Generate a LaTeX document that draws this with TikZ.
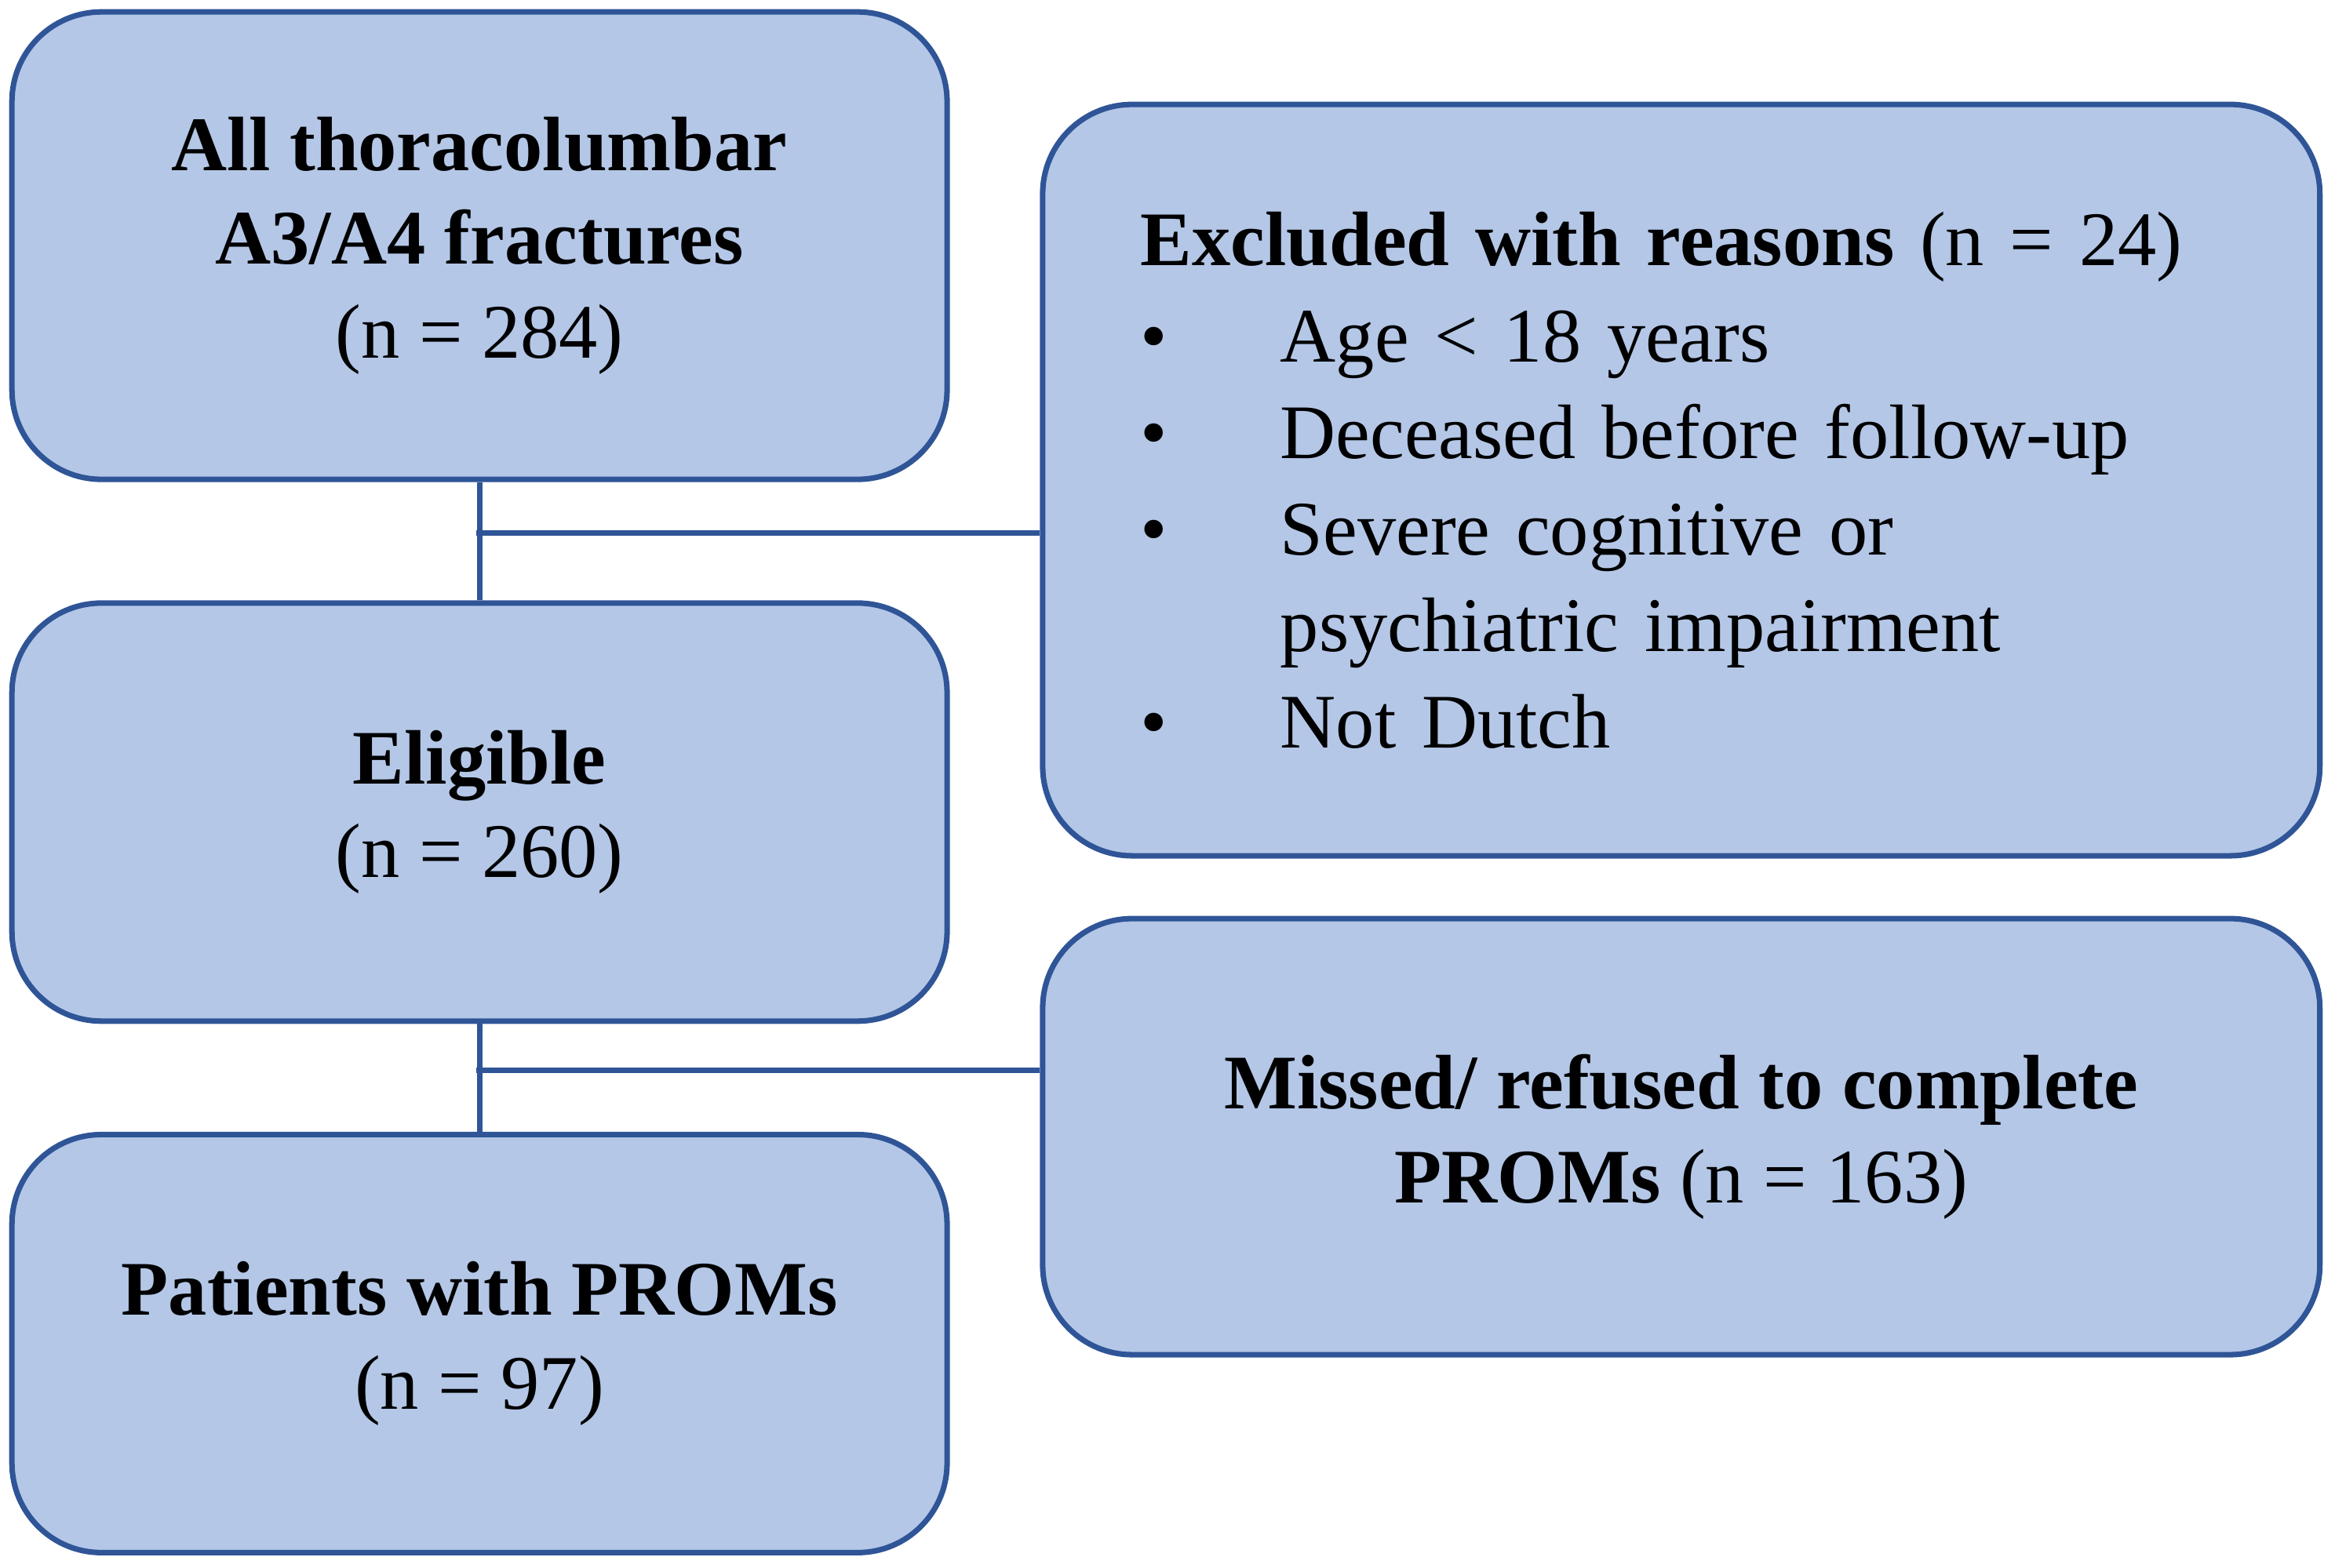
\documentclass[tikz,border=0pt]{standalone}
\usepackage{fontspec}
\setmainfont{Liberation Serif}
\usetikzlibrary{positioning}
\definecolor{boxfill}{HTML}{B4C7E7}
\definecolor{boxline}{HTML}{2F5597}
\tikzset{
  flowbox/.style={draw=boxline, fill=boxfill, line width=2pt, rounded corners=1.14cm,
    align=center, font=\fontsize{28}{34}\selectfont},
  link/.style={draw=boxline, line width=2pt}
}
\newcommand{\bul}{\makebox[1.78cm][l]{\textbullet}}
\begin{document}
\begin{tikzpicture}[x=0.01898cm,y=-0.01898cm]
  \useasboundingbox (0,0) rectangle (1568,1053);
  % left column
  \node[flowbox, minimum width=11.92cm, minimum height=5.96cm] (all) at (322,165)
    {\textbf{All thoracolumbar}\\\textbf{A3/A4 fractures}\\(n = 284)};
  \node[flowbox, minimum width=11.92cm, minimum height=5.33cm] (elig) at (322,545.5)
    {\textbf{Eligible}\\(n = 260)};
  \node[flowbox, minimum width=11.92cm, minimum height=5.33cm] (prom) at (322,902.5)
    {\textbf{Patients with PROMs}\\(n = 97)};
  % right column
  \node[flowbox, minimum width=16.28cm, minimum height=9.58cm, text width=13.78cm,
    align=left, font=\fontsize{28}{35}\selectfont] (excl) at (1129,322.5)
    {\textbf{Excluded with reasons} (n = 24)\\
     \bul Age < 18 years\\
     \bul Deceased before follow-up\\
     \bul Severe cognitive or\\
     \hspace*{1.78cm}psychiatric impairment\\
     \bul Not Dutch};
  \node[flowbox, minimum width=16.28cm, minimum height=5.56cm] (miss) at (1129,763.5)
    {\textbf{Missed/ refused to complete}\\\textbf{PROMs} (n = 163)};
  % connectors
  \draw[link] (all.south) -- (elig.north);
  \coordinate (j1) at (320,358);
  \draw[link] (j1) -- (j1 -| excl.west);
  \draw[link] (elig.south) -- (prom.north);
  \coordinate (j2) at (320,719);
  \draw[link] (j2) -- (j2 -| miss.west);
\end{tikzpicture}
\end{document}
